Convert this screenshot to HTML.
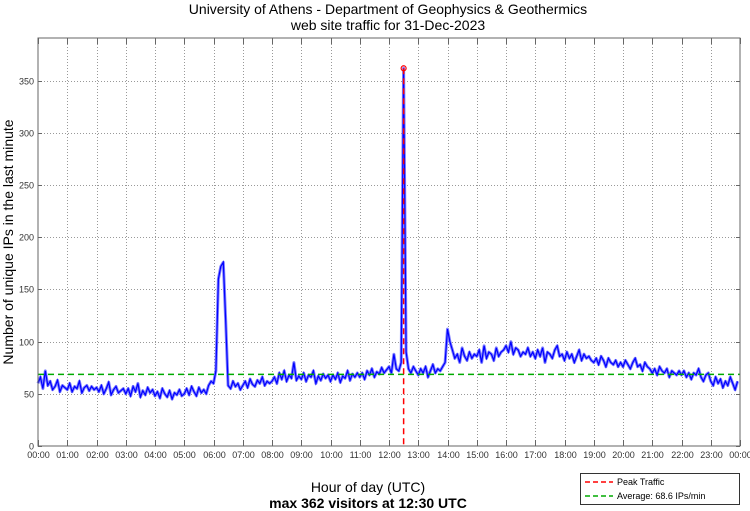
<!DOCTYPE html>
<html><head><meta charset="utf-8"><style>
body{margin:0;background:#fff;}
svg{display:block;font-family:"Liberation Sans",sans-serif;}
</style></head><body>
<svg id="chart" width="750" height="511" viewBox="0 0 750 511">
<text x="388" y="14" text-anchor="middle" font-size="14">University of Athens - Department of Geophysics &amp; Geothermics</text>
<text x="388" y="30" text-anchor="middle" font-size="14">web site traffic for 31-Dec-2023</text>
<text transform="translate(13,242) rotate(-90)" text-anchor="middle" font-size="14">Number of unique IPs in the last minute</text>
<text x="368" y="492" text-anchor="middle" font-size="14">Hour of day (UTC)</text>
<text x="368" y="508" text-anchor="middle" font-size="14" font-weight="bold">max 362 visitors at 12:30 UTC</text>
<g id="grid"></g>
<g id="series"></g>
<rect x="38" y="38" width="702" height="408" fill="none" stroke="#666" stroke-width="1"/>
<g id="axes"></g>
<g>
<rect x="580.5" y="473.5" width="159" height="31" fill="#fff" stroke="#333"/>
<line x1="585" y1="482" x2="613" y2="482" stroke="#f00" stroke-width="1.5" stroke-dasharray="5,3"/>
<text x="617" y="485" font-size="9">Peak Traffic</text>
<line x1="585" y1="496" x2="613" y2="496" stroke="#0a0" stroke-width="1.5" stroke-dasharray="5,3"/>
<text x="617" y="499" font-size="9">Average: 68.6 IPs/min</text>
</g>
</svg>
<script>
const yTicks=[0,50,100,150,200,250,300,350];
const xTickLabels=["00:00","01:00","02:00","03:00","04:00","05:00","06:00","07:00","08:00","09:00","10:00","11:00","12:00","13:00","14:00","15:00","16:00","17:00","18:00","19:00","20:00","21:00","22:00","23:00","00:00"];
const average=68.6;
const peakValue=362;
const peakMinute=750;
// 5-minute samples of unique IPs
const traffic=[
60,66,55,72,58,62,54,57,63,52,58,56,
54,60,52,57,55,62,51,56,58,53,57,54,
56,52,58,50,55,61,49,54,57,51,53,55,
50,55,48,57,52,60,47,53,49,56,51,54,
48,52,46,55,50,47,53,45,51,49,54,48,
50,55,49,57,52,48,56,51,54,50,58,62,
60,72,160,172,176,120,58,55,62,57,60,54,
58,62,56,64,59,57,63,60,66,58,62,60,
62,66,60,70,64,72,62,68,65,80,63,67,
64,70,62,68,66,72,60,67,63,69,65,68,
62,68,64,70,61,67,65,72,63,69,66,70,
66,70,64,72,68,74,66,71,69,75,70,73,
76,70,88,74,72,80,362,90,74,70,76,72,
68,74,70,76,66,72,78,70,74,72,76,80,
112,100,92,84,88,80,94,86,82,90,84,88,
86,92,80,96,84,90,88,82,94,86,90,92,
96,90,100,88,94,92,86,90,88,94,86,90,
84,92,86,94,80,90,88,84,92,96,86,88,
82,90,84,88,80,86,92,82,88,84,86,82,
80,84,78,86,82,76,84,80,78,82,76,80,
76,82,78,74,80,84,76,78,72,80,76,74,
70,74,68,76,72,70,74,66,72,70,68,72,
68,72,66,70,64,70,68,74,66,62,68,70,
62,58,66,60,64,56,62,58,66,60,54,62];
const sampleStep=5;

const NS="http://www.w3.org/2000/svg";
const L=38,R=740,T=38,B=446,YMAX=391;
const xs=m=>L+(R-L)*m/1440;
const ys=v=>B-(B-T)*v/YMAX;
function mk(tag,attrs,parent){const e=document.createElementNS(NS,tag);for(const k in attrs)e.setAttribute(k,attrs[k]);parent.appendChild(e);return e;}
const grid=document.getElementById('grid'),axes=document.getElementById('axes'),series=document.getElementById('series');
yTicks.forEach(v=>{
  const y=Math.round(ys(v))+0.5;
  if(v>0){const g=mk('line',{x1:L,x2:R,y1:y,y2:y,stroke:'#999','stroke-dasharray':'1,2'},grid);
  
  }
  const t=mk('line',{x1:L,x2:L+4,y1:y,y2:y,stroke:'#666'},axes);
  
  
  const t2=mk('line',{x1:R-4,x2:R,y1:y,y2:y,stroke:'#666'},axes);
  
  
  const lb=mk('text',{x:34,y:y+3,'text-anchor':'end','font-size':9,fill:'#333'},axes);
  lb.textContent=v;
  
  
});
xTickLabels.forEach((s,i)=>{
  const x=Math.round(xs(i*60))+0.5;
  if(i>0&&i<24){const g=mk('line',{x1:x,x2:x,y1:T,y2:B,stroke:'#999','stroke-dasharray':'1,2'},grid);
  
  }
  const t=mk('line',{x1:x,x2:x,y1:B-6,y2:B,stroke:'#666'},axes);
  
  
  const t2=mk('line',{x1:x,x2:x,y1:T,y2:T+6,stroke:'#666'},axes);
  
  
  const lb=mk('text',{x:x,y:458,'text-anchor':'middle','font-size':9,fill:'#333'},axes);
  lb.textContent=s;
  
  
});
const pts=traffic.map((v,i)=>xs(i*sampleStep).toFixed(1)+','+ys(v).toFixed(1)).join(' ');
const band=mk('polyline',{points:pts,fill:'none',stroke:'#8080ff','stroke-width':3,'stroke-linejoin':'round'},series);


const line=mk('polyline',{points:pts,fill:'none',stroke:'#0000ff','stroke-width':1.2},series);


const avg=mk('line',{x1:L,x2:R,y1:ys(average),y2:ys(average),stroke:'#00aa00','stroke-width':1.5,'stroke-dasharray':'6,4'},series);


const pk=mk('line',{x1:xs(peakMinute),x2:xs(peakMinute),y1:ys(peakValue),y2:B,stroke:'#ff0000','stroke-width':1.5,'stroke-dasharray':'6,4'},series);


const pm=mk('circle',{cx:xs(peakMinute),cy:ys(peakValue),r:2.5,fill:'none',stroke:'#ff0000','stroke-width':1.2},series);


</script>
</body></html>
